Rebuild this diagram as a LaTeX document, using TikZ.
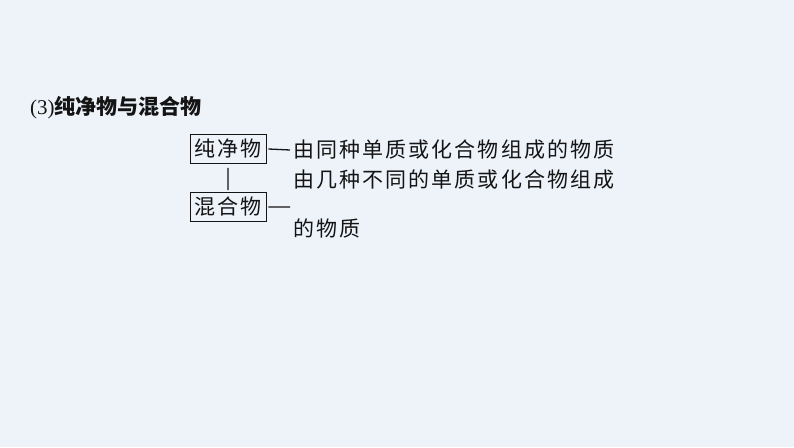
\documentclass[tikz,border=0pt]{standalone}
\usepackage{fontspec}
\usepackage{tikz}
\usetikzlibrary{positioning}
\newfontfamily\cjk[LetterSpace=10]{Noto Sans CJK SC}
\newfontfamily\cjkhead{Noto Sans CJK SC}
\newfontfamily\numfont{Liberation Serif}
\definecolor{pagebg}{RGB}{238,243,250}
\definecolor{inktext}{RGB}{20,20,20}
\tikzset{kindbox/.style={draw=inktext, line width=0.9pt, minimum width=76pt, minimum height=29pt, inner sep=0pt, font=\cjk\fontsize{21}{24}\selectfont, text=inktext},
deftext/.style={anchor=west, inner sep=0pt, font=\cjk\fontsize{21}{24}\selectfont, text=inktext},
link/.style={draw=inktext, line width=1.3pt}}

\begin{document}
\begin{tikzpicture}[x=1pt,y=1pt]
		\fill[pagebg] (0,0) rectangle (794,447);
		\useasboundingbox (0,0) rectangle (794,447);

		% heading
		\node[anchor=west, inner sep=0pt, text=inktext] (title) at (30,339)
		{\numfont\fontsize{21}{24}\selectfont (3)\cjkhead\bfseries 纯净物与混合物};

		% the two kinds
		\node[kindbox] (pure) at (228,298) {纯净物};
		\node[kindbox] (mixed) at (228,240) {混合物};

		% what they are
		\node[deftext] (pureDef) at (293,297) {由同种单质或化合物组成的物质};
		\node[deftext] (mixedDefA) at (293,267) {由几种不同的单质或化合物组成};
		\node[deftext] (mixedDefB) at (293,219) {的物质};
		\coordinate (mixedEnd) at (290,240);

		\draw[link]
		([yshift=-4pt]pure.south) -- ([yshift=2pt]mixed.north)
		([xshift=2pt]pure.east) -- ([xshift=-3pt]pureDef.west)
		([xshift=2pt]mixed.east) -- (mixedEnd)
		;

	\end{tikzpicture}
\end{document}
